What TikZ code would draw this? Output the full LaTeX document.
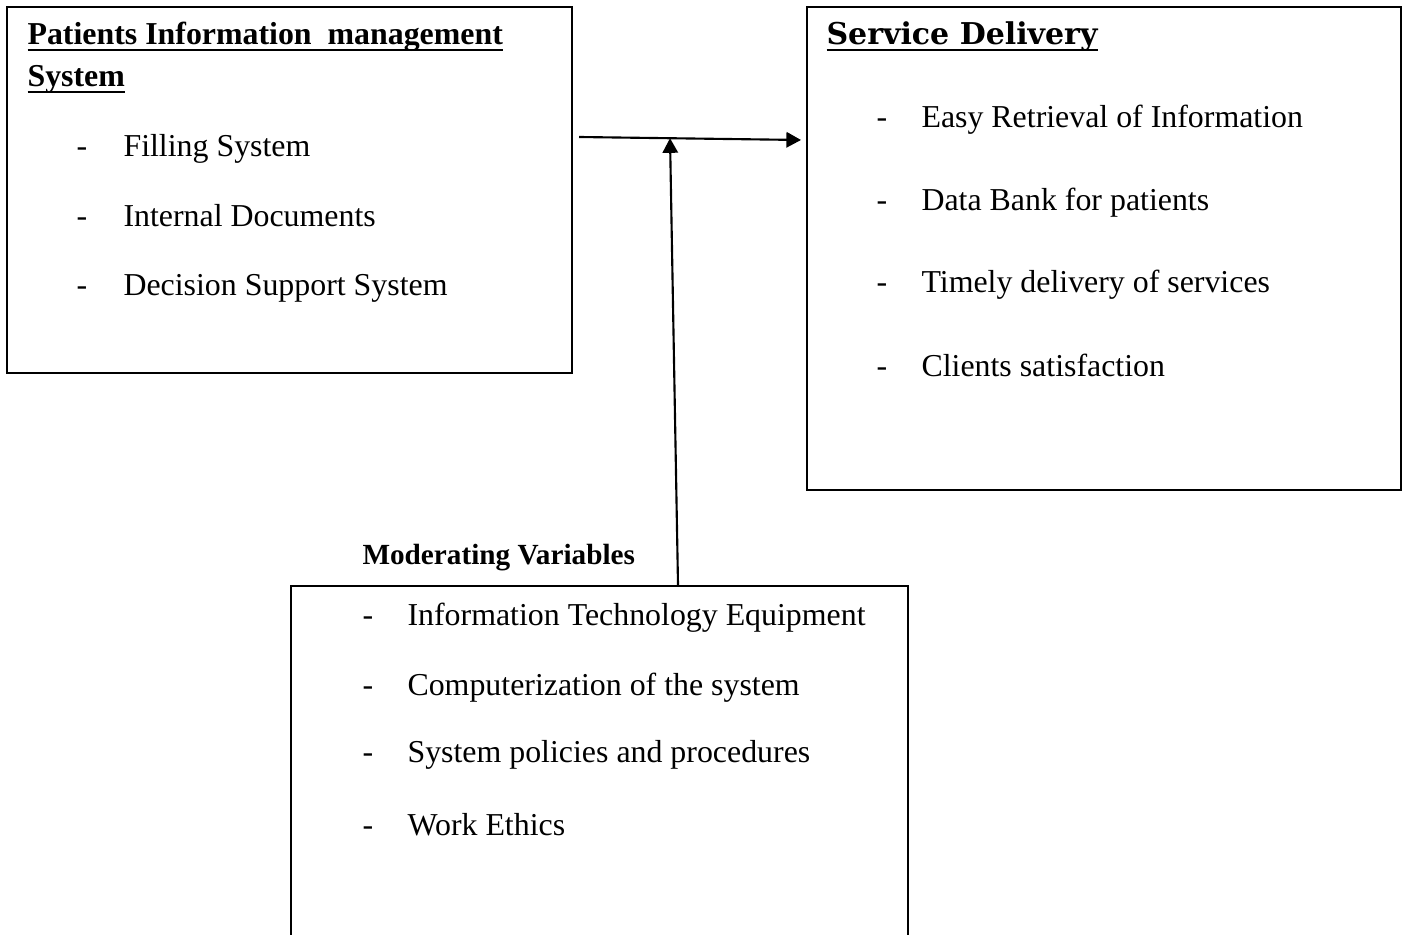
\documentclass[tikz,border=0pt]{standalone}
\usepackage{fontspec}
\setmainfont{Liberation Serif}
\newfontfamily\headfont{DejaVu Serif}
\usetikzlibrary{arrows.meta, calc}

% one unit of the drawing grid
\newcommand{\px}{0.3765pt}
% underline that runs through descenders
\newcommand{\ulword}[1]{\setbox0\hbox{#1}\rlap{\rule[-2.3pt]{\wd0}{0.8pt}}\box0}

\begin{document}
\begin{tikzpicture}[x=\px, y=-\px,
    panel/.style={draw, line width=0.8pt, inner sep=0pt, anchor=north west},
    entry/.style={anchor=base west, inner sep=0pt, font=\fontsize{12}{14}\selectfont},
    head/.style={anchor=base west, inner sep=0pt, font=\fontsize{12}{14}\selectfont\bfseries},
    flow/.style={-{Triangle[length=5.5pt, width=5.8pt]}, line width=0.8pt}]

\useasboundingbox (0,0) rectangle (1402,934);

% === Cajas ===
\node[panel, minimum width=565*\px, minimum height=366*\px] (pims) at (6,6) {};
\node[panel, minimum width=594*\px, minimum height=483*\px] (delivery) at (806,6) {};
\node[panel, minimum width=617*\px, minimum height=354*\px] (mods) at (290,585) {};

% === Variable independiente ===
\node[head] (pims title) at (27,45) {\ulword{Patients Information \ management}};
\node[head] (pims title2) at (27,87) {\ulword{System}};
\foreach \txt/\y [count=\i] in {Filling System/157, Internal Documents/227, Decision Support System/296} {
    \node[entry] (pims dash\i) at (76,\y) {-};
    \node[entry] (pims item\i) at (123,\y) {\txt};
}

% === Variable dependiente ===
\node[head, font={\fontsize{11.3}{13}\headfont\bfseries}] (delivery title) at (826,45) {\ulword{Service Delivery}};
\foreach \txt/\y [count=\i] in {Easy Retrieval of Information/128, Data Bank for patients/211,
    Timely delivery of services/293, Clients satisfaction/377} {
    \node[entry] (delivery dash\i) at (876,\y) {-};
    \node[entry] (delivery item\i) at (921,\y) {\txt};
}

% === Variables moderadoras ===
\node[head, font=\fontsize{11}{13}\selectfont\bfseries] (mods title) at (362,564) {Moderating Variables};
\foreach \txt/\y [count=\i] in {Information Technology Equipment/625, Computerization of the system/695,
    System policies and procedures/762, Work Ethics/835} {
    \node[entry] (mods dash\i) at (362,\y) {-};
    \node[entry] (mods item\i) at (407,\y) {\txt};
}

% === Flechas ===
\coordinate (link in) at (579,137);
\coordinate (link out) at (801,140);
\coordinate (mods top) at (678,585);
\coordinate (meet) at ($(link in)!0.41!(link out)$);

\draw[flow] (link in) -- (link out);
\draw[flow] (mods top) -- (meet);

\end{tikzpicture}
\end{document}
